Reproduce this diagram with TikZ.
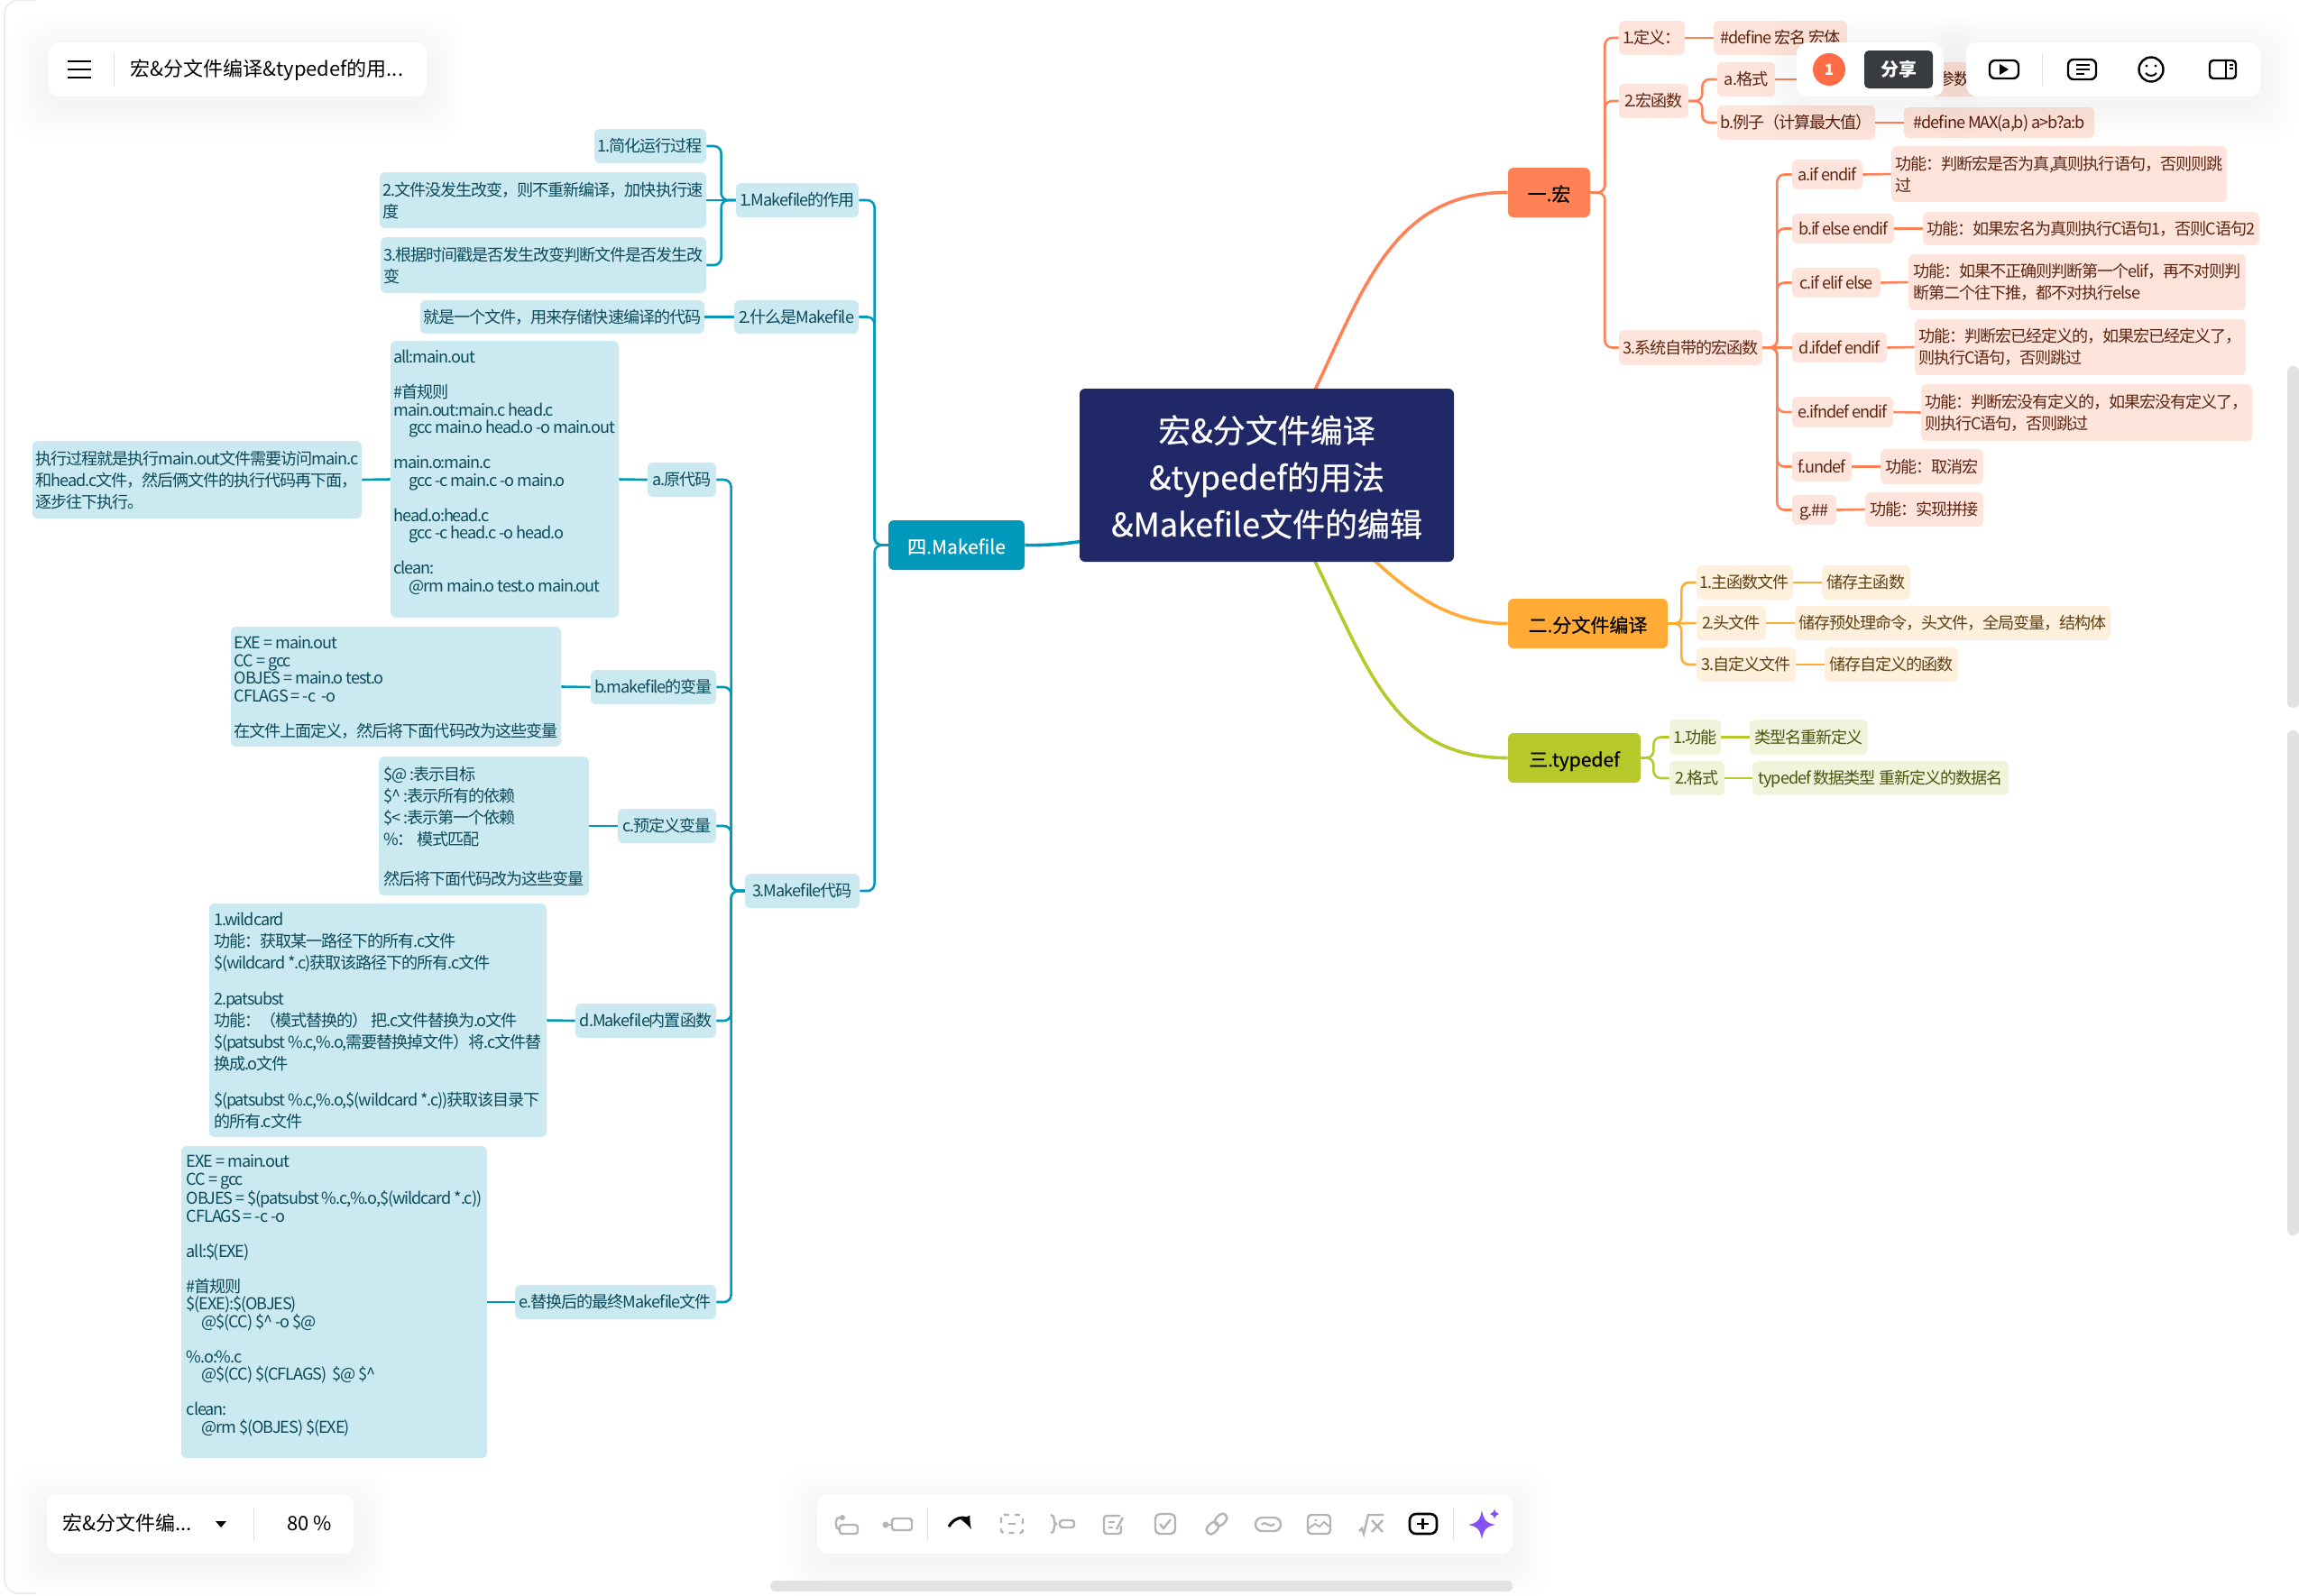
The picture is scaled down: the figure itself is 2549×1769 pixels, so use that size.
\documentclass[tikz,border=0pt]{standalone}
\usepackage{fontspec}
\setmainfont{Noto Sans CJK SC}
\newfontfamily\mapfont{Noto Sans CJK SC}[LetterSpace=-6]
\newfontfamily\heavyfont{Noto Sans CJK SC}[FakeBold=0.5]
\usetikzlibrary{backgrounds}

\definecolor{rootc}{HTML}{212868}
\definecolor{hongc}{HTML}{FF8256}
\definecolor{hongl}{HTML}{FFE4DC}
\definecolor{hongt}{HTML}{5E2410}
\definecolor{fenc}{HTML}{FFAB36}
\definecolor{fenl}{HTML}{FFEFDD}
\definecolor{fent}{HTML}{5E4012}
\definecolor{typec}{HTML}{B7C82A}
\definecolor{typel}{HTML}{F0F4DA}
\definecolor{typet}{HTML}{4C5410}
\definecolor{makec}{HTML}{0099BB}
\definecolor{makel}{HTML}{CBE9F1}
\definecolor{maket}{HTML}{0B4A5A}
\definecolor{iconc}{HTML}{B4B4B4}
\definecolor{barc}{HTML}{E2E2E2}
\definecolor{starc}{HTML}{8650F2}
\definecolor{badgec}{HTML}{FF6B45}
\definecolor{sharec}{HTML}{383B40}

\tikzset{
    wh/.style 2 args={minimum width=#1*0.5pt, minimum height=#2*0.5pt},
    mapbox/.style={rounded corners=3pt, inner sep=0pt, font=\mapfont\fontsize{9.05}{12}\selectfont, text height=7.8pt, text depth=1pt},
    code/.style={align=left, text height=, text depth=},
    tight/.style={font=\mapfont\fontsize{9.05}{9.75}\selectfont},
    topbox/.style={mapbox, font=\heavyfont\fontsize{10.5}{12}\selectfont, text height=10pt, text depth=0.3pt},
    rootbox/.style={mapbox, fill=rootc, text=white, align=center, font=\heavyfont\fontsize{18}{26}\selectfont, text height=, text depth=},
    hongsub/.style={mapbox, fill=hongl, text=hongt},
    fensub/.style={mapbox, fill=fenl, text=fent},
    typesub/.style={mapbox, fill=typel, text=typet},
    makesub/.style={mapbox, fill=makel, text=maket},
    hongline/.style={draw=hongc, line width=1.3pt, rounded corners=4pt},
    fenline/.style={draw=fenc, line width=1.3pt, rounded corners=4pt},
    typeline/.style={draw=typec, line width=1.3pt, rounded corners=4pt},
    makeline/.style={draw=makec, line width=1.3pt, rounded corners=4pt},
    uitext/.style={inner sep=0pt, font=\fontsize{11}{13}\selectfont, text height=8.5pt, text depth=2pt},
    icon/.style={draw=iconc, line width=1.2pt, rounded corners=1.5pt},
    blackicon/.style={draw=black, line width=1.2pt, rounded corners=2pt},
    divider/.style={draw=black!12, line width=0.5pt}
}

\newcommand{\lift}{\rule{0pt}{7.8pt}}
\newcommand{\panel}[4]{
    \foreach \s in {4,8,...,40}
        \fill[black, opacity=0.004, rounded corners=14pt] ({#1-\s},{#2-\s+10}) rectangle ({#3+\s},{#4+\s+10});
    \fill[white, rounded corners=6pt] (#1,#2) rectangle (#3,#4);
}

\begin{document}
\begin{tikzpicture}[x=0.5pt, y=-0.5pt]
    \useasboundingbox (0,0) rectangle (2549,1769);
    \draw[black!7, line width=1pt, rounded corners=8pt] (40,0) -- (5,0) -- (5,1767) -- (40,1767);

    \node[rootbox, wh={415}{192}] (root) at (1404.5,527) {\rule{0pt}{17.4pt}宏\&分文件编译\\\&typedef的用法\\\&Makefile文件的编辑};

    \node[topbox, fill=hongc, text=black, wh={91}{55}] (hong) at (1717.5,213.5) {一.宏};
    \node[topbox, fill=fenc, text=black, wh={177}{55}] (fen) at (1760.5,691.5) {二.分文件编译};
    \node[topbox, fill=typec, text=black, wh={147}{55}] (tdef) at (1745.5,840.5) {三.typedef};
    \node[topbox, fill=makec, text=white, wh={151}{55}] (make) at (1060.5,604.5) {四.Makefile};

    \begin{scope}[on background layer]
        \draw[hongc, line width=1.8pt] (root.center) .. controls (1500,390) and (1510,212) .. (hong.west);
        \draw[fenc, line width=1.8pt] (root.center) .. controls (1500,570) and (1550,692) .. (fen.west);
        \draw[typec, line width=1.8pt] (root.center) .. controls (1510,690) and (1515,841) .. (tdef.west);
        \draw[makec, line width=1.8pt] (root.center) .. controls (1280,590) and (1200,606) .. (make.east);
    \end{scope}

    \node[hongsub, wh={73}{38}] (hdef) at (1831.5,42) {1.定义：};
    \node[hongsub, wh={148}{38}] (hdefv) at (1974,42) {\#define 宏名 宏体};
    \node[hongsub, wh={77}{38}] (hfun) at (1833.5,112) {2.宏函数};
    \node[hongsub, wh={64}{38}] (hfmt) at (1936,88) {a.格式};
    \node[hongsub, wh={85}{38}] (hfmtv) at (2167.5,88) {参数};
    \node[hongsub, wh={175}{38}] (hexa) at (1991.5,136) {b.例子（计算最大值）};
    \node[hongsub, wh={211}{34}] (hexav) at (2216.5,136) {\#define MAX(a,b) a>b?a:b};
    \node[hongsub, wh={159}{39}] (hsys) at (1874.5,385.5) {3.系统自带的宏函数};
    \node[hongsub, wh={78}{33}] (hsa) at (2026,193.5) {a.if endif};
    \node[hongsub, code, wh={372}{62}] (hsav) at (2283,193) {\lift 功能：判断宏是否为真,真则执行语句，否则则跳\\过};
    \node[hongsub, wh={113}{33}] (hsb) at (2043.5,253.5) {b.if else endif};
    \node[hongsub, wh={373}{37}] (hsbv) at (2318.5,253.5) {功能：如果宏名为真则执行C语句1，否则C语句2};
    \node[hongsub, wh={98}{33}] (hsc) at (2036,313.5) {c.if elif else};
    \node[hongsub, code, wh={374}{62}] (hscv) at (2303,313) {\lift 功能：如果不正确则判断第一个elif，再不对则判\\断第二个往下推，都不对执行else};
    \node[hongsub, wh={105}{33}] (hsd) at (2039.5,385.5) {d.ifdef endif};
    \node[hongsub, code, wh={367}{62}] (hsdv) at (2306.5,385) {\lift 功能：判断宏已经定义的，如果宏已经定义了，\\则执行C语句，否则跳过};
    \node[hongsub, wh={112}{34}] (hse) at (2043,457) {e.ifndef endif};
    \node[hongsub, code, wh={367}{63}] (hsev) at (2313.5,457.5) {\lift 功能：判断宏没有定义的，如果宏没有定义了，\\则执行C语句，否则跳过};
    \node[hongsub, wh={66}{33}] (hsf) at (2020,517.5) {f.undef};
    \node[hongsub, wh={114}{39}] (hsfv) at (2142,517.5) {功能：取消宏};
    \node[hongsub, wh={49}{33}] (hsg) at (2011.5,565.5) {g.\#\#};
    \node[hongsub, wh={131}{38}] (hsgv) at (2133.5,565) {功能：实现拼接};

    \draw[hongline] (hong.east) -- ++(16,0) |- (hdef.west);
    \draw[hongline] (hong.east) -- ++(16,0) |- (hfun.west);
    \draw[hongline] (hong.east) -- ++(16,0) |- (hsys.west);
    \draw[hongline] (hdef.east) -- (hdefv.west);
    \draw[hongline] (hfun.east) -- ++(15,0) |- (hfmt.west);
    \draw[hongline] (hfun.east) -- ++(15,0) |- (hexa.west);
    \draw[hongline] (hfmt.east) -- (hfmtv.west);
    \draw[hongline] (hexa.east) -- (hexav.west);
    \draw[hongline] (hsys.east) -- ++(16,0) |- (hsa.west);
    \draw[hongline] (hsys.east) -- ++(16,0) |- (hsb.west);
    \draw[hongline] (hsys.east) -- ++(16,0) |- (hsc.west);
    \draw[hongline] (hsys.east) -- (hsd.west);
    \draw[hongline] (hsys.east) -- ++(16,0) |- (hse.west);
    \draw[hongline] (hsys.east) -- ++(16,0) |- (hsf.west);
    \draw[hongline] (hsys.east) -- ++(16,0) |- (hsg.west);
    \draw[hongline] (hsa.east) -- (hsav.west);
    \draw[hongline] (hsb.east) -- (hsbv.west);
    \draw[hongline] (hsc.east) -- (hscv.west);
    \draw[hongline] (hsd.east) -- (hsdv.west);
    \draw[hongline] (hse.east) -- (hsev.west);
    \draw[hongline] (hsf.east) -- (hsfv.west);
    \draw[hongline] (hsg.east) -- (hsgv.west);

    \node[fensub, wh={107}{38}] (fa) at (1934.5,646) {1.主函数文件};
    \node[fensub, wh={98}{38}] (fav) at (2069,646) {储存主函数};
    \node[fensub, wh={77}{38}] (fb) at (1919.5,691) {2.头文件};
    \node[fensub, wh={350}{38}] (fbv) at (2165,691) {储存预处理命令，头文件，全局变量，结构体};
    \node[fensub, wh={110}{38}] (fc) at (1936,737) {3.自定义文件};
    \node[fensub, wh={148}{38}] (fcv) at (2097,737) {储存自定义的函数};

    \draw[fenline] (fen.east) -- ++(15,0) |- (fa.west);
    \draw[fenline] (fen.east) -- (fb.west);
    \draw[fenline] (fen.east) -- ++(15,0) |- (fc.west);
    \draw[fenline] (fa.east) -- (fav.west);
    \draw[fenline] (fb.east) -- (fbv.west);
    \draw[fenline] (fc.east) -- (fcv.west);

    \node[typesub, wh={57}{39}] (ta) at (1879.5,817.5) {1.功能};
    \node[typesub, wh={131}{39}] (tav) at (2005.5,817.5) {类型名重新定义};
    \node[typesub, wh={61}{38}] (tb) at (1881.5,863) {2.格式};
    \node[typesub, wh={284}{38}] (tbv) at (2085,863) {typedef 数据类型 重新定义的数据名};

    \draw[typeline] (tdef.east) -- ++(14,0) |- (ta.west);
    \draw[typeline] (tdef.east) -- ++(14,0) |- (tb.west);
    \draw[typeline] (ta.east) -- (tav.west);
    \draw[typeline] (tb.east) -- (tbv.west);

    \node[makesub, wh={136}{38}] (ma) at (884,222) {1.Makefile的作用};
    \node[makesub, wh={124}{38}] (maa) at (721,162) {1.简化运行过程};
    \node[makesub, code, wh={362}{62}] (mab) at (602,222) {\lift 2.文件没发生改变，则不重新编译，加快执行速\\度};
    \node[makesub, code, wh={361}{62}] (mac) at (602.5,294) {\lift 3.根据时间戳是否发生改变判断文件是否发生改\\变};
    \node[makesub, wh={138}{37}] (mw) at (883,351.5) {2.什么是Makefile};
    \node[makesub, wh={315}{37}] (mwv) at (623.5,351.5) {就是一个文件，用来存储快速编译的代码};
    \node[makesub, wh={127}{38}] (mc) at (889.5,988) {3.Makefile代码};

    \node[makesub, wh={76}{38}] (ca) at (756,532) {a.原代码};
    \node[makesub, code, tight, wh={253}{307}] (cav) at (559.5,531.5) {\lift all:main.out\\[9.75pt]
        \#首规则\\
        main.out:main.c head.c\\
        \hspace*{8.5pt}gcc main.o head.o -o main.out\\[9.75pt]
        main.o:main.c\\
        \hspace*{8.5pt}gcc -c main.c -o main.o\\[9.75pt]
        head.o:head.c\\
        \hspace*{8.5pt}gcc -c head.c -o head.o\\[9.75pt]
        clean:\\
        \hspace*{8.5pt}@rm main.o test.o main.out\\
        \mbox{}};
    \node[makesub, code, wh={365}{86}] (can) at (218.5,532) {\lift 执行过程就是执行main.out文件需要访问main.c\\和head.c文件，然后俩文件的执行代码再下面，\\逐步往下执行。};
    \node[makesub, wh={139}{38}] (cb) at (724.5,762) {b.makefile的变量};
    \node[makesub, code, tight, wh={366}{133}] (cbv) at (439,761.5) {\lift EXE = main.out\\
        CC = gcc\\
        OBJES = main.o test.o\\
        CFLAGS = -c\ \ -o\\[9.75pt]
        在文件上面定义，然后将下面代码改为这些变量};
    \node[makesub, wh={109}{38}] (cc) at (739.5,916) {c.预定义变量};
    \node[makesub, code, wh={233}{154}] (ccv) at (536.5,916) {\lift \$@ :表示目标\\
        \$\textasciicircum{} :表示所有的依赖\\
        \$< :表示第一个依赖\\
        \%：\ 模式匹配\\[10pt]
        然后将下面代码改为这些变量};
    \node[makesub, wh={156}{38}] (cd) at (716,1132) {d.Makefile内置函数};
    \node[makesub, code, wh={374}{259}] (cdv) at (419,1131.5) {\lift 1.wildcard\\
        功能：获取某一路径下的所有.c文件\\
        \$(wildcard *.c)获取该路径下的所有.c文件\\[8pt]
        2.patsubst\\
        功能：（模式替换的） 把.c文件替换为.o文件\\
        \$(patsubst \%.c,\%.o,需要替换掉文件）将.c文件替\\
        换成.o文件\\[8pt]
        \$(patsubst \%.c,\%.o,\$(wildcard *.c))获取该目录下\\
        的所有.c文件};
    \node[makesub, wh={223}{38}] (ce) at (682.5,1444) {e.替换后的最终Makefile文件};
    \node[makesub, code, tight, wh={339}{346}] (cev) at (370.5,1444) {\lift EXE = main.out\\
        CC = gcc\\
        OBJES = \$(patsubst \%.c,\%.o,\$(wildcard *.c))\\
        CFLAGS = -c -o\\[9.75pt]
        all:\$(EXE)\\[9.75pt]
        \#首规则\\
        \$(EXE):\$(OBJES)\\
        \hspace*{8.5pt}@\$(CC) \$\textasciicircum{} -o \$@\\[9.75pt]
        \%.o:\%.c\\
        \hspace*{8.5pt}@\$(CC) \$(CFLAGS)\ \ \$@ \$\textasciicircum{}\\[9.75pt]
        clean:\\
        \hspace*{8.5pt}@rm \$(OBJES) \$(EXE)\\
        \mbox{}};

    \draw[makeline] (make.west) -- ++(-15,0) |- (ma.east);
    \draw[makeline] (make.west) -- ++(-15,0) |- (mw.east);
    \draw[makeline] (make.west) -- ++(-15,0) |- (mc.east);
    \draw[makeline] (ma.west) -- ++(-16,0) |- (maa.east);
    \draw[makeline] (ma.west) -- (mab.east);
    \draw[makeline] (ma.west) -- ++(-16,0) |- (mac.east);
    \draw[makeline] (mw.west) -- (mwv.east);
    \draw[makeline] (mc.west) -- ++(-15,0) |- (ca.east);
    \draw[makeline] (mc.west) -- ++(-15,0) |- (cb.east);
    \draw[makeline] (mc.west) -- ++(-15,0) |- (cc.east);
    \draw[makeline] (mc.west) -- ++(-15,0) |- (cd.east);
    \draw[makeline] (mc.west) -- ++(-15,0) |- (ce.east);
    \draw[makeline] (ca.west) -- (cav.east);
    \draw[makeline] (cav.west) -- (can.east);
    \draw[makeline] (cb.west) -- (cbv.east);
    \draw[makeline] (cc.west) -- (ccv.east);
    \draw[makeline] (cd.west) -- (cdv.east);
    \draw[makeline] (ce.west) -- (cev.east);

    \panel{54}{47}{473}{107}
    \draw[divider] (126,59) -- (126,95);
    \draw[black, line width=1.3pt] (75,68) -- (101,68);
    \draw[black, line width=1.3pt] (75,77) -- (101,77);
    \draw[black, line width=1.3pt] (75,86) -- (101,86);
    \node[uitext, anchor=west] (title) at (144,78) {宏\&分文件编译\&typedef的用...};

    \panel{1992}{47}{2155}{107}
    \fill[badgec] (2028,77) circle (18);
    \node[inner sep=0pt, text=white, font=\bfseries\fontsize{8.5}{10}\selectfont] (badge) at (2028,77) {1};
    \node[fill=sharec, rounded corners=2.5pt, wh={76}{42}, inner sep=0pt, text=white, font=\bfseries\fontsize{10}{12}\selectfont] (share) at (2105,77) {分享};

    \panel{2180}{47}{2506}{107}
    \draw[blackicon, rounded corners=3pt] (2206,67) rectangle (2238,87);
    \fill[black] (2217,71) -- (2217,83) -- (2227,77) -- cycle;
    \draw[divider] (2264,59) -- (2264,95);
    \draw[blackicon, rounded corners=3pt] (2293,66) rectangle (2324,88);
    \draw[black, line width=1pt] (2302,72) -- (2317,72);
    \draw[black, line width=1pt] (2302,77) -- (2317,77);
    \draw[black, line width=1pt] (2302,82) -- (2311,82);
    \draw[black, line width=1.2pt] (2385,77) circle (13.5);
    \fill[black] (2380,73) circle (1.6);
    \fill[black] (2390,73) circle (1.6);
    \draw[black, line width=1pt] (2379,81) .. controls (2382,85) and (2388,85) .. (2391,81);
    \draw[blackicon] (2450,67) rectangle (2479,87);
    \draw[black, line width=1.2pt] (2468,67) -- (2468,87);
    \draw[black, line width=.8pt] (2472,72) -- (2476,72);
    \draw[black, line width=.8pt] (2472,76) -- (2476,76);

    \panel{52}{1657}{392}{1723}
    \node[uitext, anchor=west] (file) at (69,1691) {宏\&分文件编...};
    \fill[black] (239,1687) -- (251,1687) -- (245,1694) -- cycle;
    \draw[divider] (281,1672) -- (281,1708);
    \node[uitext] (zoomlevel) at (343,1691) {80 \%};

    \panel{906}{1657}{1677}{1723}
    \draw[divider] (1028,1672) -- (1028,1708);
    \draw[divider] (1611,1672) -- (1611,1708);
    \fill[iconc] (934,1683) circle (3);
    \draw[iconc, line width=1.2pt, rounded corners=2pt] (934,1683) -- (927,1683) -- (927,1696) -- (931,1696);
    \draw[icon] (931,1691) rectangle (951,1701);
    \fill[iconc] (982,1691) circle (3.5);
    \draw[iconc, line width=1.2pt] (982,1691) -- (989,1691);
    \draw[icon] (989,1684) rectangle (1011,1697);
    \draw[black, line width=1.5pt, -latex] (1052,1693) .. controls (1058,1682) and (1070,1682) .. (1077,1696);
    \draw[icon, dashed] (1110,1680) rectangle (1134,1700);
    \draw[iconc, line width=1.2pt] (1118,1690) -- (1126,1690);
    \draw[iconc, line width=1.2pt] (1165,1680) .. controls (1171,1680) and (1167,1690) .. (1171,1690) .. controls (1167,1690) and (1171,1700) .. (1165,1700);
    \draw[icon] (1175,1686) rectangle (1191,1694);
    \draw[icon] (1242,1681) -- (1224,1681) -- (1224,1701) -- (1243,1701) -- (1243,1692);
    \draw[iconc, line width=1.2pt] (1229,1688) -- (1236,1688);
    \draw[iconc, line width=1.2pt] (1229,1694) -- (1234,1694);
    \draw[iconc, line width=1.2pt] (1238,1696) -- (1245,1683);
    \draw[icon, rounded corners=2.5pt] (1281,1679) rectangle (1303,1701);
    \draw[iconc, line width=1.2pt] (1286,1690) -- (1290,1695) -- (1298,1685);
    \draw[iconc, line width=1.2pt, rotate around={45:(1349,1690)}, rounded corners=2.4pt] (1335,1685) rectangle (1350,1695);
    \draw[iconc, line width=1.2pt, rotate around={45:(1349,1690)}, rounded corners=2.4pt] (1348,1685) rectangle (1363,1695);
    \draw[iconc, line width=1.2pt, rounded corners=3.7pt] (1392,1683) rectangle (1420,1698);
    \draw[iconc, line width=1.1pt] (1399,1691) .. controls (1403,1685) and (1408,1696) .. (1413,1690);
    \draw[icon, rounded corners=2pt] (1450,1680) rectangle (1475,1701);
    \draw[iconc, line width=1pt] (1451,1695) -- (1458,1690) -- (1463,1693) -- (1468,1688) -- (1474,1693);
    \fill[iconc] (1459,1686) circle (1.5);
    \draw[iconc, line width=1.2pt] (1507,1698) -- (1510,1695) -- (1512,1701) -- (1517,1680) -- (1534,1680);
    \draw[iconc, line width=1.2pt] (1521,1686) -- (1533,1699);
    \draw[iconc, line width=1.2pt] (1533,1686) -- (1521,1699);
    \draw[black, line width=1.3pt, rounded corners=3.5pt] (1563,1679) rectangle (1593,1701);
    \draw[black, line width=1.1pt] (1571,1690) -- (1584,1690);
    \draw[black, line width=1.1pt] (1577.5,1684) -- (1577.5,1696);
    \fill[starc] (1643,1675) .. controls (1645,1686) and (1648,1689) .. (1658,1691) .. controls (1648,1693) and (1645,1696) .. (1643,1707) .. controls (1641,1696) and (1638,1693) .. (1628,1691) .. controls (1638,1689) and (1641,1686) .. (1643,1675) -- cycle;
    \fill[starc] (1657,1673.5) .. controls (1658,1677) and (1659,1678) .. (1662,1679) .. controls (1659,1680) and (1658,1681) .. (1657,1684.5) .. controls (1656,1681) and (1655,1680) .. (1652,1679) .. controls (1655,1678) and (1656,1677) .. (1657,1673.5) -- cycle;

    \fill[barc, rounded corners=3pt] (2536,406) rectangle (2549,785);
    \fill[barc, rounded corners=3pt] (2536,810) rectangle (2549,1370);
    \fill[barc, rounded corners=3pt] (854,1753) rectangle (1677,1765);
\end{tikzpicture}
\end{document}
